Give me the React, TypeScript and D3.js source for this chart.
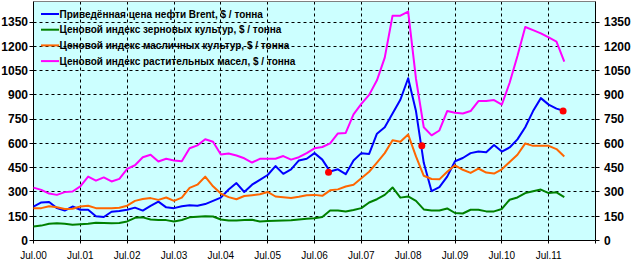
import React from "react";
import * as d3 from "d3";

const months = [0,2,4,6,8,10,12,14,16,18,20,22,24,26,28,30,32,34,36,38,40,42,44,46,48,50,52,54,56,58,60,62,64,66,68,70,72,74,76,78,80,82,84,86,88,90,92,94,96,98,100,102,104,106,108,110,112,114,116,118,120,122,124,126,128,130,132,134,136];

const brent = [210,235,238,200,185,210,190,190,150,145,178,183,190,203,185,214,240,205,200,212,218,215,225,245,265,315,355,300,345,375,405,460,412,440,495,505,540,500,426,440,410,495,540,535,660,700,785,870,1003,800,480,305,330,395,490,510,540,550,545,590,550,575,625,700,800,880,840,815,800];

const cereals = [86,92,104,107,103,97,100,103,110,108,107,108,118,140,143,130,126,126,118,127,143,147,150,148,130,124,124,126,128,118,120,122,124,125,130,134,138,145,185,185,179,188,200,235,255,282,328,265,272,245,192,186,185,198,170,167,190,190,180,180,195,252,266,293,305,315,293,298,268];

const oilseeds = [200,200,212,205,195,196,210,215,200,200,200,202,215,245,256,262,251,266,245,265,325,345,395,335,290,268,255,275,280,286,300,272,267,263,270,280,282,276,310,316,334,345,385,425,482,540,620,610,655,520,400,380,378,425,465,437,418,445,420,414,440,485,530,600,585,585,585,565,519];

const vegOils = [327,313,290,282,299,303,335,395,370,390,365,381,443,465,515,530,488,505,495,490,570,588,626,610,532,538,525,508,482,505,505,505,522,500,515,540,570,578,600,662,665,780,845,900,990,1130,1390,1390,1415,1000,700,650,680,800,790,785,800,862,862,868,840,975,1140,1320,1300,1280,1255,1230,1106];

const dotMonths = [75.6, 99.5, 135.7];
const dotValues = [422, 585, 801];

const yTicks = [0,150,300,450,600,750,900,1050,1200,1350];
const xTickMonths = [0,12,24,36,48,60,72,84,96,108,120,132];
const xTickLabels = ["Jul.00","Jul.01","Jul.02","Jul.03","Jul.04","Jul.05","Jul.06","Jul.07","Jul.08","Jul.09","Jul.10","Jul.11"];

const seriesNames = [
  "Приведённая цена нефти Brent, $ / тонна",
  "Ценовой индекс зерновых культур, $ / тонна",
  "Ценовой индекс масличных культур, $ / тонна",
  "Ценовой индекс растительных масел, $ / тонна",
];
const seriesColors = ["#0000FF", "#008000", "#FF6600", "#FF00FF"];

export default function App() {
  const W = 634, H = 261;
  const left = 33.5, right = 595.5, top = 1.5, bottom = 240.5;
  const x = d3.scaleLinear().domain([0, 144]).range([left, right]);
  const y = d3.scaleLinear().domain([0, 1350]).range([bottom, 22.1]);
  const line = d3.line<number>()
    .x((_, i) => x(months[i]))
    .y((d) => y(d));
  const seriesData = [brent, cereals, oilseeds, vegOils];
  const font = "'Liberation Sans', Arial, sans-serif";
  const gy = (v: number) => Math.round(y(v) - 0.5) + 0.5;
  const gx = (m: number) => Math.round(x(m) - 0.5) + 0.5;

  return (
    <svg width={W} height={H} style={{ position: "absolute", left: 0, top: 0, display: "block" }} fontFamily={font}>
      <rect x={0} y={0} width={W} height={H} fill="#FFFFFF" />
      <rect x={left} y={top} width={right - left} height={bottom - top} fill="#CCFFFF" />
      {/* grid */}
      {yTicks.filter((v) => v > 0).map((v) => (
        <line key={"gy" + v} x1={left} x2={right} y1={gy(v)} y2={gy(v)} stroke="#000" strokeWidth={1} strokeDasharray="3,3" />
      ))}
      {xTickMonths.filter((m) => m > 0).map((m) => (
        <line key={"gx" + m} x1={gx(m)} x2={gx(m)} y1={top} y2={bottom} stroke="#000" strokeWidth={1} strokeDasharray="3,3" />
      ))}
      {/* top border */}
      <line x1={left} x2={right} y1={top} y2={top} stroke="#808080" strokeWidth={1} />
      {/* axes */}
      <line x1={left} x2={left} y1={top} y2={bottom} stroke="#000" strokeWidth={1} />
      <line x1={right} x2={right} y1={top} y2={bottom} stroke="#000" strokeWidth={1} />
      <line x1={left} x2={right} y1={bottom} y2={bottom} stroke="#000" strokeWidth={1} />
      {yTicks.map((v) => (
        <g key={"yt" + v}>
          <line x1={left - 4} x2={left} y1={gy(v)} y2={gy(v)} stroke="#000" />
          <line x1={right} x2={right + 4} y1={gy(v)} y2={gy(v)} stroke="#000" />
          <text x={28} y={y(v)} dy="0.36em" textAnchor="end" fontSize={12} fontWeight="bold" fill="#000">{v}</text>
          <text x={604} y={y(v)} dy="0.36em" textAnchor="start" fontSize={12} fontWeight="bold" fill="#000">{v}</text>
        </g>
      ))}
      {xTickMonths.map((m, i) => (
        <g key={"xt" + m}>
          <line x1={gx(m)} x2={gx(m)} y1={bottom - 3} y2={bottom + 3} stroke="#000" />
          <text x={x(m)} y={255} dy="0.35em" textAnchor="middle" fontSize={10} fill="#000">{xTickLabels[i]}</text>
        </g>
      ))}
      <line x1={right} x2={right} y1={bottom} y2={bottom + 3} stroke="#000" />
      {/* series */}
      {seriesData.map((s, i) => (
        <path key={"s" + i} d={line(s) || ""} fill="none" stroke={seriesColors[i]} strokeWidth={2} strokeLinejoin="round" />
      ))}
      {dotMonths.map((m, i) => (
        <circle key={"d" + i} cx={x(m)} cy={y(dotValues[i])} r={3.5} fill="#FF0000" />
      ))}
      {/* legend */}
      {seriesNames.map((n, i) => (
        <g key={"lg" + i}>
          <line x1={41} x2={59} y1={14 + i * 15.7} y2={14 + i * 15.7} stroke={seriesColors[i]} strokeWidth={2} />
          <text x={59.5} y={14 + i * 15.7} dy="0.36em" fontSize={10} fontWeight="bold" fill="#000">{n}</text>
        </g>
      ))}
    </svg>
  );
}
